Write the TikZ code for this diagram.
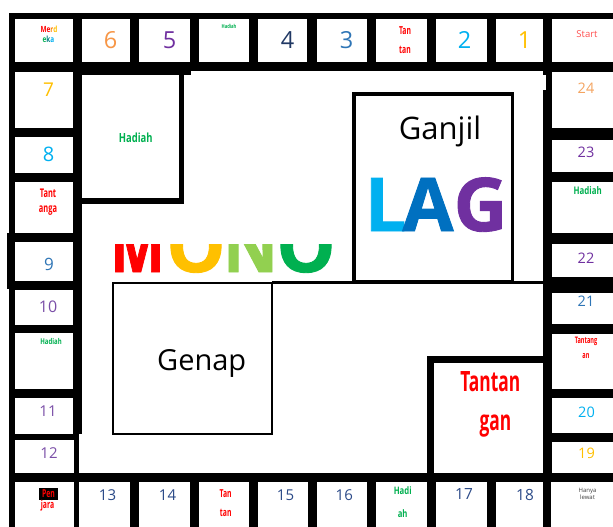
\documentclass[tikz,border=0pt]{standalone}
\usepackage{fontspec}
\setmainfont{Open Sans}
\newfontfamily\condr[FakeStretch=0.62]{Open Sans}
\newfontfamily\condg[FakeStretch=0.75]{Open Sans}
\newfontfamily\bigf[FakeStretch=1.0,FakeBold=1.2]{Open Sans}
\newcommand\fz[1]{\fontsize{#1}{#1}\selectfont}
\definecolor{tred}{HTML}{FF0000}
\definecolor{tgreen}{HTML}{00B050}
\definecolor{corange}{HTML}{F79646}
\definecolor{cpurple}{HTML}{7030A0}
\definecolor{clpurple}{HTML}{7B4FA8}
\definecolor{cnavy}{HTML}{203864}
\definecolor{cnavyb}{HTML}{2B4A88}
\definecolor{cblue}{HTML}{2E75B6}
\definecolor{ccyan}{HTML}{00B0F0}
\definecolor{cyellow}{HTML}{FFC000}
\definecolor{clorange}{HTML}{F4A460}
\definecolor{cstart}{HTML}{FF5050}
\definecolor{cdblue}{HTML}{0070C0}
\definecolor{clgreen}{HTML}{92D050}
\definecolor{cgray}{HTML}{404040}
\tikzset{
  wcell/.style={fill=white},
  redl/.style={font=\condr\bfseries, text=tred, anchor=base},
  grnl/.style={font=\condg\bfseries, text=tgreen, anchor=base},
  bigl/.style={font=\bigf\bfseries\fz{74}, anchor=base},
}
\begin{document}
\begin{tikzpicture}[x=1pt,y=-1pt, every node/.style={inner sep=0pt, outer sep=0pt}]
\useasboundingbox (0,0) rectangle (613,527);
% black frame
\fill (9,13) rectangle (613,71);
\fill (73,13) rectangle (191,75);
\fill (9,13) rectangle (82,434);
\fill (9,434) rectangle (79,527);
\fill (7,233) rectangle (15,289);
\fill (9,473) rectangle (613,527);
\fill (543,13) rectangle (613,527);
\fill (73,71) rectangle (183.5,204);
\fill (427,356) rectangle (543,473);
% interiors of the inner boxes
\fill[wcell] (82,75) rectangle (178.5,198);
\fill[wcell] (434,363) rectangle (543,473);
\fill[wcell] (543,75) rectangle (546,90);
% top row cells
\foreach \a/\b in {15/73,82/130,139/190,199/249,258/307,317/367,376/427,436/487,496/543,552/613}
  \fill[wcell] (\a,19) rectangle (\b,62);
% left column cells
\foreach \a/\b in {72/128,137/173,182/233,242/281,290/325,333/389,398/434}
  \fill[wcell] (15,\a) rectangle (73,\b);
\fill[wcell] (15,440) rectangle (74,473);
\fill[wcell] (15,482) rectangle (74,527);
% bottom row cells
\foreach \a/\b in {79/130,139/190,199/249,258/308,317/367,376/427,436/487,496/543,551/613}
  \fill[wcell] (\a,482) rectangle (\b,527);
% right column cells
\foreach \a/\b in {72/128,140/172,182/233,244/277,293/324,334/389,398/433,442/473}
  \fill[wcell] (552,\a) rectangle (613,\b);
% thin boxes
\draw[line width=3.6pt] (354,94) rectangle (512.5,281.5);
\draw[line width=2.2pt] (113.3,282.8) rectangle (271.8,434);
\draw[line width=2.5pt] (271.8,282.5) -- (543,282.5);
% top row labels
\node[font=\condg\bfseries\fz{8.5}, anchor=base] (merd) at (49,33)
  {\textcolor{tred}{Me}\textcolor{orange}{r}\textcolor{cyellow}{d}};
\node[font=\condg\bfseries\fz{8.5}, anchor=base] (eka) at (48.5,43)
  {\textcolor{tgreen}{e}\textcolor{teal}{k}\textcolor{ccyan}{a}};
\node[text=corange] (n6) at (110.5,40) {\fz{23.5}6};
\node[text=cpurple] (n5) at (169.5,40) {\fz{23.5}5};
\node[grnl] (hd1) at (229,29) {\fz{5.5}Hadiah};
\node[text=cnavy] (n4) at (287.5,40) {\fz{23.5}4};
\node[text=cblue] (n3) at (346.5,40) {\fz{23.5}3};
\node[redl] (tt1a) at (405,35) {\fz{11}Tan};
\node[redl] (tt1b) at (405,53.3) {\fz{11}tan};
\node[text=ccyan] (n2) at (464.5,40) {\fz{23.5}2};
\node[text=cyellow] (n1) at (524.5,40) {\fz{23.5}1};
\node[text=cstart, anchor=base] (start) at (587,38) {\fz{9.5}Start};
% left column labels
\node[text=cyellow] (n7) at (48.5,90) {\fz{19}7};
\node[text=ccyan] (n8) at (48.5,154.5) {\fz{20}8};
\node[redl] (tg1) at (48,197) {\fz{12}Tant};
\node[redl] (tg2) at (48,212) {\fz{12}anga};
\node[text=cblue] (n9) at (49,264.5) {\fz{17}9};
\node[text=clpurple] (n10) at (48,306.5) {\fz{16}10};
\node[grnl] (hd2) at (51,344) {\fz{8}Hadiah};
\node[text=clpurple] (n11) at (48,411) {\fz{15}11};
\node[text=clpurple] (n12) at (49,453) {\fz{15}12};
\node[fill=black, text=tred, font=\condr\bfseries\fz{11}, minimum width=19pt, minimum height=12pt] (pen) at (48.5,494) {Pen};
\node[redl] (jara) at (47.5,508.7) {\fz{11}jara};
% bottom row labels
\node[text=cnavyb] (n13) at (107.5,495.3) {\fz{15}13};
\node[text=cnavyb] (n14) at (167.5,495.3) {\fz{15}14};
\node[redl] (tt2a) at (225.7,497) {\fz{11}Tan};
\node[redl] (tt2b) at (225.7,516) {\fz{11}tan};
\node[text=cnavyb] (n15) at (285.5,495.3) {\fz{15}15};
\node[text=cnavyb] (n16) at (344.3,495.3) {\fz{15}16};
\node[grnl] (hd3a) at (402.7,494) {\fz{10.3}Hadi};
\node[grnl] (hd3b) at (402.7,517) {\fz{10.3}ah};
\node[text=cnavyb] (n17) at (464,493.5) {\fz{15.4}17};
\node[text=cnavyb] (n18) at (525,495) {\fz{15.4}18};
\node[text=cgray, anchor=base] (hanya) at (587.5,492) {\fz{6}Hanya};
\node[text=cgray, anchor=base] (lewat) at (587.5,499) {\fz{6}lewat};
% right column labels
\node[text=clorange] (n24) at (586,88) {\fz{14.5}24};
\node[text=cpurple] (n23) at (586,152) {\fz{14.5}23};
\node[grnl] (hd4) at (587.7,194) {\fz{10.5}Hadiah};
\node[text=cpurple] (n22) at (586,258) {\fz{14.5}22};
\node[text=cblue] (n21) at (586,301) {\fz{14.5}21};
\node[redl] (tg3a) at (586,343.5) {\fz{9}Tantang};
\node[redl] (tg3b) at (586,358) {\fz{9}an};
\node[text=ccyan] (n20) at (586.5,412) {\fz{14.5}20};
\node[text=cyellow] (n19) at (586.5,453) {\fz{14.5}19};
% inner boxes
\node[grnl] (hdbig) at (135.7,142) {\fz{12.6}Hadiah};
\node[anchor=base] (ganjil) at (440,139) {\fz{31}Ganjil};
\node[bigl, text=ccyan] (lL) at (385.5,231) {L};
\node[bigl, text=cdblue] (lA) at (428,231) {A};
\node[bigl, text=cpurple] (lG) at (480.5,231) {G};
\begin{scope}
\clip (100,244) rectangle (345,290);
\node[bigl, text=tred] (mM) at (137.5,272) {\scalebox{0.78}[1]{M}};
\node[bigl, text=cyellow] (mO1) at (196,272) {O};
\node[bigl, text=clgreen] (mN) at (250.5,272) {\scalebox{0.92}[1]{N}};
\node[bigl, text=tgreen] (mO2) at (306,272) {O};
\end{scope}
\node[anchor=base] (genap) at (201.7,370) {\fz{29}Genap};
\node[redl] (tbig1) at (490.3,391.7) {\fz{28}Tantan};
\node[redl] (tbig2) at (495.5,430) {\fz{28}gan};
\end{tikzpicture}
\end{document}
